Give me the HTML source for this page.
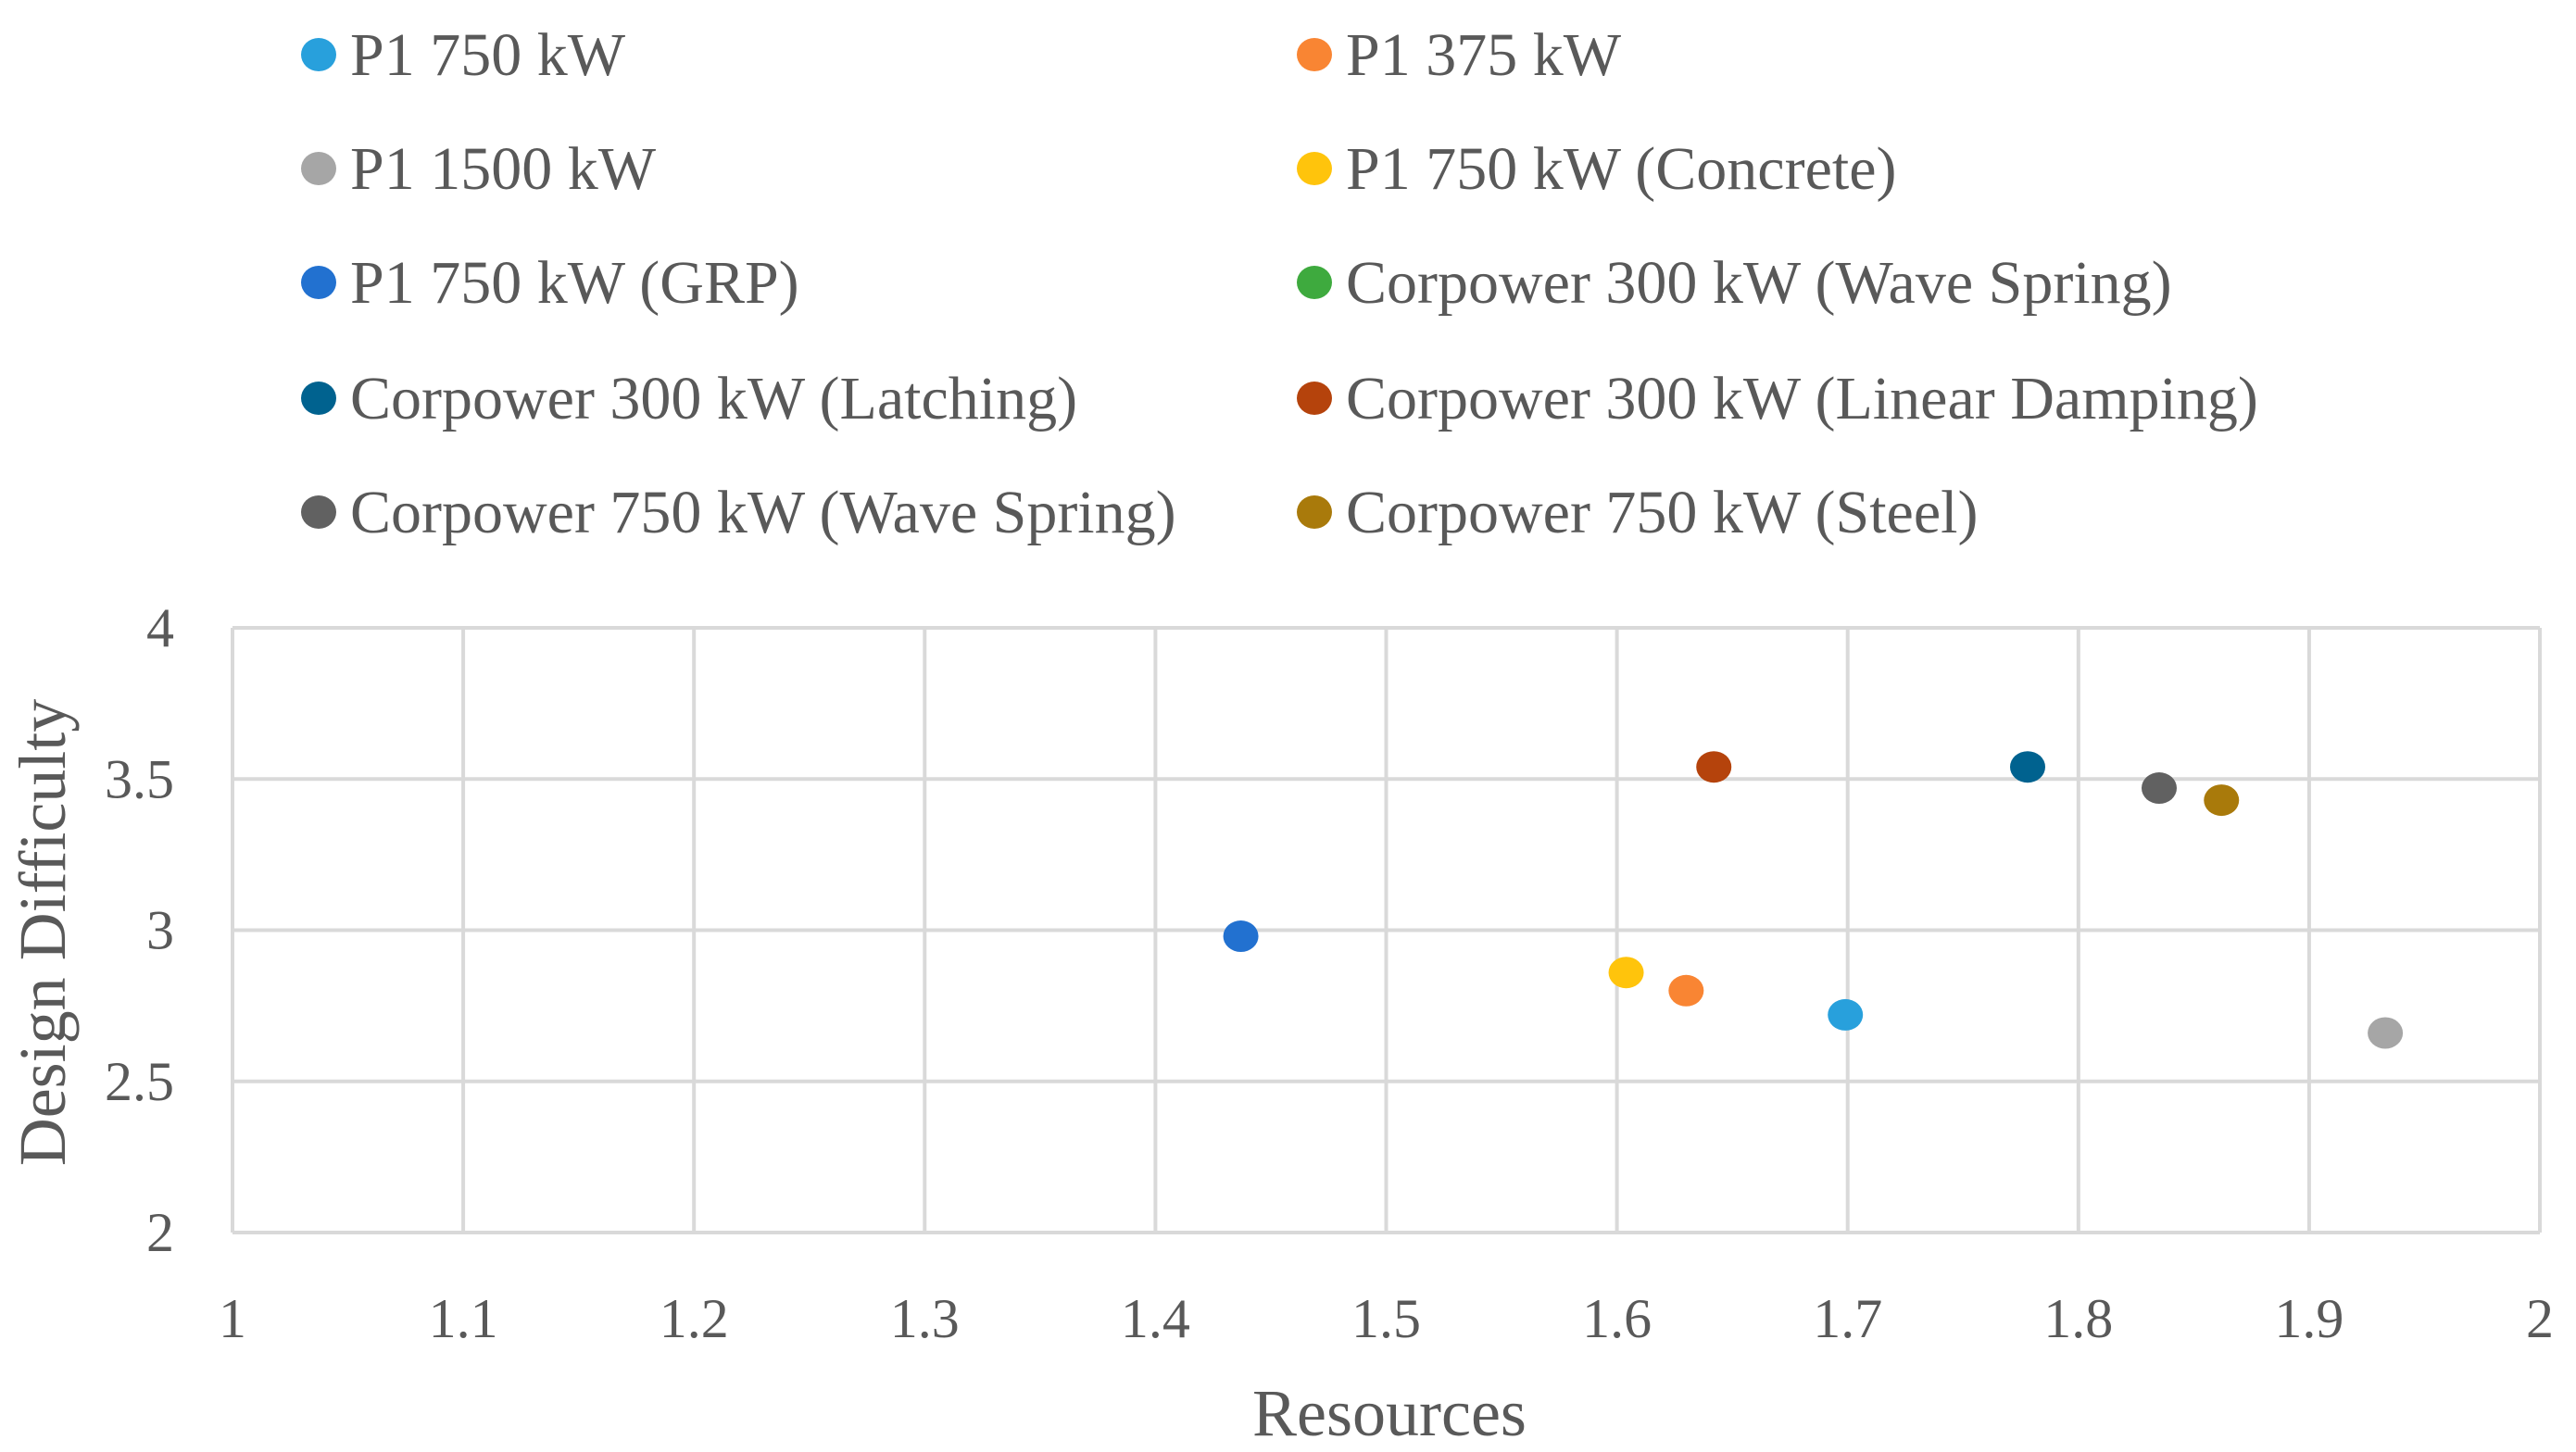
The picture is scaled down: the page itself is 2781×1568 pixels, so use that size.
<!DOCTYPE html>
<html><head><meta charset="utf-8"><style>
html,body{margin:0;padding:0;background:#fff;}
svg{display:block;font-family:"Liberation Serif",serif;}
</style></head><body>
<svg id="chart" width="2781" height="1568" viewBox="0 0 2781 1568" xmlns="http://www.w3.org/2000/svg">
<rect width="2781" height="1568" fill="#fff"/>
<g id="legend"></g>
<g id="grid"></g>
<g id="xticks"></g>
<g id="yticks"></g>
<g id="points"></g>
<text x="1500" y="1550" text-anchor="middle" font-size="72" fill="#595959">Resources</text>
<text transform="translate(70,1007) rotate(-90)" text-anchor="middle" font-size="72" fill="#595959">Design Difficulty</text>
</svg>
<script>
const seriesNames = ["P1 750 kW","P1 375 kW","P1 1500 kW","P1 750 kW (Concrete)","P1 750 kW (GRP)","Corpower 300 kW (Wave Spring)","Corpower 300 kW (Latching)","Corpower 300 kW (Linear Damping)","Corpower 750 kW (Wave Spring)","Corpower 750 kW (Steel)"];
const seriesColors = ["#28A0DC","#F98533","#A6A6A6","#FFC40C","#2271D0","#3EAA3E","#00628F","#B5430C","#616161","#A97A0B"];
const resources = [1.699,1.630,1.933,1.604,1.437,null,1.778,1.642,1.835,1.862];
const difficulty = [2.72,2.80,2.66,2.86,2.98,null,3.54,3.54,3.47,3.43];
const xTicks = [1,1.1,1.2,1.3,1.4,1.5,1.6,1.7,1.8,1.9,2];
const yTicks = [2,2.5,3,3.5,4];
const xTickLabels = ["1","1.1","1.2","1.3","1.4","1.5","1.6","1.7","1.8","1.9","2"];
const yTickLabels = ["2","2.5","3","3.5","4"];

const NS="http://www.w3.org/2000/svg";
const L=251,R=2742,T=678,B=1331;
const xs=v=>L+(v-1)/(2-1)*(R-L);
const ys=v=>B-(v-2)/(4-2)*(B-T);
function mk(tag,attrs,parent){const e=document.createElementNS(NS,tag);for(const k in attrs)e.setAttribute(k,attrs[k]);parent.appendChild(e);return e;}
const grid=document.getElementById('grid');
xTicks.forEach((t,i)=>{
  const ln=mk('line',{x1:xs(t),x2:xs(t),y1:T,y2:B,stroke:'#d9d9d9','stroke-width':4},grid);
  
  
  const tx=mk('text',{x:xs(t),y:1444,'text-anchor':'middle','font-size':60,fill:'#595959'},document.getElementById('xticks'));
  tx.textContent=xTickLabels[i];
  
  
});
yTicks.forEach((t,i)=>{
  const ln=mk('line',{x1:L,x2:R,y1:ys(t),y2:ys(t),stroke:'#d9d9d9','stroke-width':4},grid);
  
  
  const tx=mk('text',{x:188,y:ys(t)+20,'text-anchor':'end','font-size':60,fill:'#595959'},document.getElementById('yticks'));
  tx.textContent=yTickLabels[i];
  
  
});
const pts=document.getElementById('points');
seriesNames.forEach((n,i)=>{
  if(resources[i]==null)return;
  const c=mk('ellipse',{cx:xs(resources[i]),cy:ys(difficulty[i]),rx:19,ry:17,fill:seriesColors[i]},pts);
  
  
});
const leg=document.getElementById('legend');
const rowsY=[59,182,305,430,553];
seriesNames.forEach((n,i)=>{
  const col=i%2,row=Math.floor(i/2);
  const mx=col?1419:344, y=rowsY[row];
  const c=mk('ellipse',{cx:mx,cy:y,rx:19,ry:18,fill:seriesColors[i]},leg);
  
  
  const t=mk('text',{x:mx+34,y:y+22,'font-size':66,fill:'#595959'},leg);
  t.textContent=n;
  
  
});
</script>
</body></html>
